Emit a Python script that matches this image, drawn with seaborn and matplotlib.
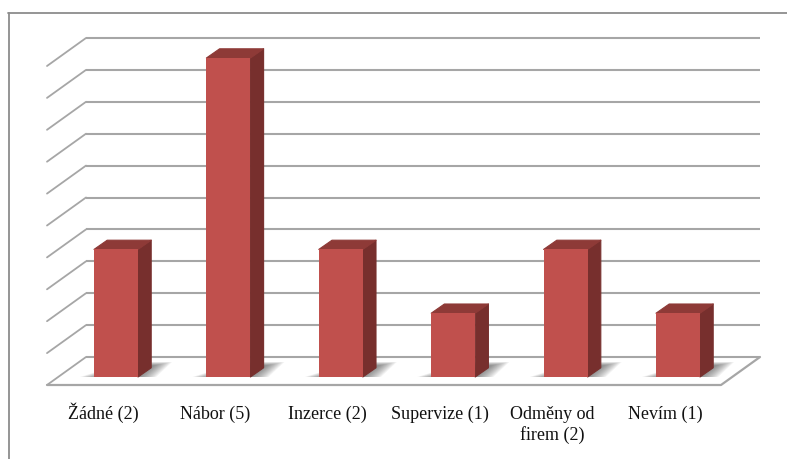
import matplotlib
matplotlib.use("Agg")
import matplotlib.pyplot as plt
from matplotlib.patches import Polygon
from matplotlib.lines import Line2D
from matplotlib.transforms import ScaledTranslation
import seaborn as sns
import pandas as pd

categories = ["Žádné (2)", "Nábor (5)", "Inzerce (2)", "Supervize (1)", "Odměny od\nfirem (2)", "Nevím (1)"]
values = [2, 5, 2, 1, 2, 1]
grid_levels = [0, 0.5, 1, 1.5, 2, 2.5, 3, 3.5, 4, 4.5, 5]

W, H = 787, 459
PX_X = 112.4      # pixels per category
PX_Y = 63.8       # pixels per unit of value
X0_PX = 116.0     # pixel x of the first category
Y0_PX = 377.0     # pixel y of value 0 on the bar front
BOTTOM_PX = 385.0 # axes bottom
DX = 13.2 / PX_X  # bar depth in data units
DY = 9.2 / PX_Y
LABEL_SHIFT = 13 / PX_X

FACE = "#C0504D"
SIDE = "#772F2D"
TOP = "#8E3A37"
GRID = "#A6A6A6"

sns.set_theme(style="white")
fig = plt.figure(figsize=(W / 100, H / 100), dpi=100, facecolor="white")
ax = fig.add_axes([0, (H - BOTTOM_PX) / H, 1, BOTTOM_PX / H])
df = pd.DataFrame({"category": categories, "value": values})
sns.barplot(data=df, x="category", y="value", color=FACE, saturation=1,
            width=44 / PX_X, ax=ax, zorder=5, linewidth=0)

ax.set_xlim(-X0_PX / PX_X, (W - X0_PX) / PX_X)
ax.set_ylim((Y0_PX - BOTTOM_PX) / PX_Y, Y0_PX / PX_Y)
ax.set_xlabel("")
ax.set_ylabel("")
ax.set_yticks([])
for s in ax.spines.values():
    s.set_visible(False)
ax.set_xticks([i - LABEL_SHIFT for i in range(len(categories))], labels=categories)
ax.tick_params(axis="x", length=0, pad=15)
for t in ax.get_xticklabels():
    t.set_fontfamily("Liberation Serif")
    t.set_fontsize(13)
    t.set_color("#111111")
    t.set_linespacing(1.25)
# The caron on the first label makes its top-aligned box taller; keep its baseline level
first = ax.get_xticklabels()[0]
first.set_transform(first.get_transform() + ScaledTranslation(0, 3 / 100, fig.dpi_scale_trans))


def xd(px):
    return (px - X0_PX) / PX_X


def yd(px):
    return (Y0_PX - px) / PX_Y


# Chart walls: horizontal lines on the back wall, slanted lines on the side wall
left_front, left_back, right_back = xd(47), xd(86), xd(760)
right_front = xd(721)
back0, front0 = yd(357), yd(385)
for lv in grid_levels:
    yb = back0 + lv
    yf = front0 + lv
    ax.plot([left_back, right_back], [yb, yb], color=GRID, lw=1.5, zorder=1, solid_capstyle="butt")
    ax.plot([left_front, left_back], [yf, yb], color=GRID, lw=1.3, zorder=1)

# Floor outline
ax.plot([left_front, right_front, right_back], [front0, front0, back0], color=GRID, lw=1.6, zorder=1, clip_on=False)

# Floor shadows, side and top faces of the bars
for i, v in enumerate(values):
    half = 22 / PX_X
    xl, xr = i - half, i + half
    for k in range(14):
        ins = k * 1.5 / PX_X
        ytop = yd(362 + k * 0.3)
        ax.add_patch(Polygon(
            [(xl - 14 / PX_X + ins, 0), (xr + 18 / PX_X - ins, 0),
             (xr + 34 / PX_X - ins, ytop), (xr - 10 / PX_X + ins, ytop)],
            closed=True, fc="#505050", ec="none", alpha=0.07, zorder=2))
    ax.add_patch(Polygon([(xr, 0), (xr + DX, DY), (xr + DX, v + DY), (xr, v)],
                         closed=True, fc=SIDE, ec=SIDE, lw=0.8, joinstyle="round", zorder=4))
    ax.add_patch(Polygon([(xl, v), (xr, v), (xr + DX, v + DY), (xl + DX, v + DY)],
                         closed=True, fc=TOP, ec=TOP, lw=0.8, joinstyle="round", zorder=4))

# Outer chart frame, open on the right and bottom
fig.add_artist(Line2D([8.5 / W, 8.5 / W], [0, 1 - 13 / H], color="#8C8C8C", lw=1.3))
fig.add_artist(Line2D([8 / W, 1], [1 - 13 / H, 1 - 13 / H], color="#8C8C8C", lw=1.3))

fig.savefig("out.png", dpi=100, facecolor="white")
